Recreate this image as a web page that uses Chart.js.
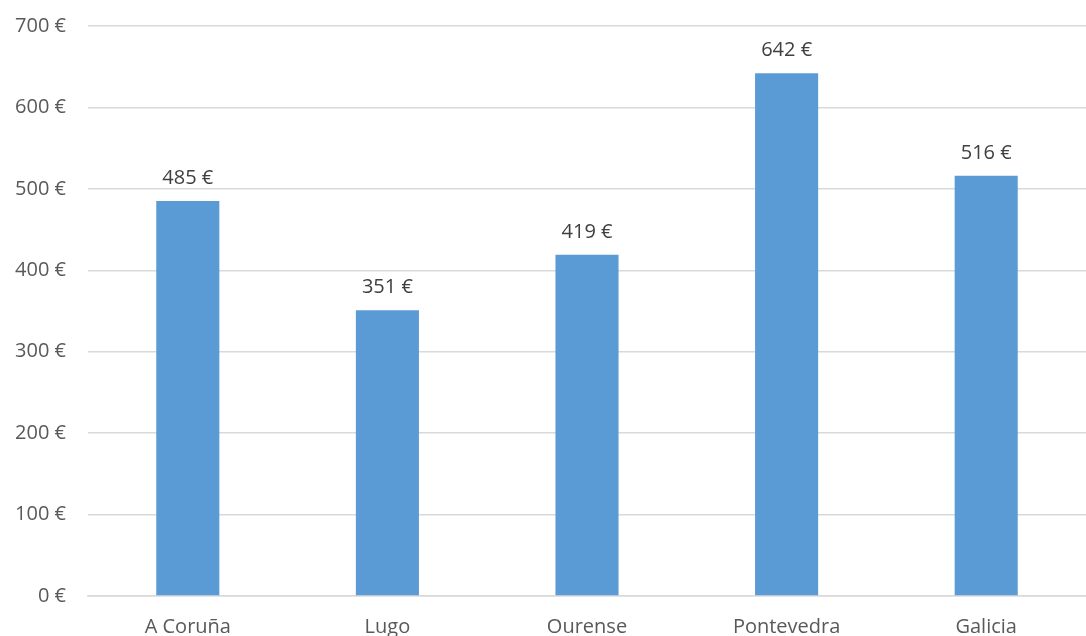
<!DOCTYPE html>
<html>
<head>
<meta charset="utf-8">
<script src="https://cdn.jsdelivr.net/npm/chart.js@4"></script>
<style>
  html, body { margin: 0; padding: 0; background: #fff; }
  #wrap { width: 1086px; height: 636px; }
</style>
</head>
<body>
<div id="wrap"><canvas id="chart"></canvas></div>
<script>
const categories = ['A Coruña', 'Lugo', 'Ourense', 'Pontevedra', 'Galicia'];
const values = [485, 351, 419, 642, 516];
const yTicks = [0, 100, 200, 300, 400, 500, 600, 700];

const textColor = '#595959';
const fontFamily = '"Open Sans", "Liberation Sans", sans-serif';

// draw the value above each bar
const barLabels = {
  id: 'barLabels',
  afterDatasetsDraw(chart) {
    const ctx = chart.ctx;
    const meta = chart.getDatasetMeta(0);
    ctx.save();
    ctx.font = '20px ' + fontFamily;
    ctx.fillStyle = '#404040';
    ctx.textAlign = 'center';
    ctx.textBaseline = 'bottom';
    meta.data.forEach((bar, i) => {
      ctx.fillText(values[i] + ' €', bar.x, bar.y - 13);
    });
    ctx.restore();
  }
};

new Chart(document.getElementById('chart'), {
  type: 'bar',
  data: {
    labels: categories,
    datasets: [{
      data: values,
      backgroundColor: '#5B9BD5',
      categoryPercentage: 1,
      barPercentage: 0.316
    }]
  },
  options: {
    responsive: true,
    maintainAspectRatio: false,
    animation: false,
    layout: { padding: { top: 26, right: 0, bottom: 0, left: 0 } },
    plugins: {
      legend: { display: false },
      tooltip: { enabled: false }
    },
    scales: {
      x: {
        afterFit(scale) { scale.height = 40; },
        grid: { display: false, drawTicks: false },
        border: { color: '#D9D9D9', width: 1.5 },
        ticks: { color: textColor, font: { family: fontFamily, size: 20 }, padding: 19 }
      },
      y: {
        min: 0,
        max: 700,
        afterBuildTicks(scale) { scale.ticks = yTicks.map(v => ({ value: v })); },
        afterFit(scale) { scale.width = 88; scale.paddingTop = 0; scale.paddingBottom = 0; },
        grid: { color: '#D9D9D9', lineWidth: 1.5, drawTicks: false },
        border: { display: false },
        ticks: {
          color: textColor,
          font: { family: fontFamily, size: 20 },
          padding: 22,
          callback: v => v + ' €'
        }
      }
    }
  },
  plugins: [barLabels]
});
</script>
</body>
</html>
